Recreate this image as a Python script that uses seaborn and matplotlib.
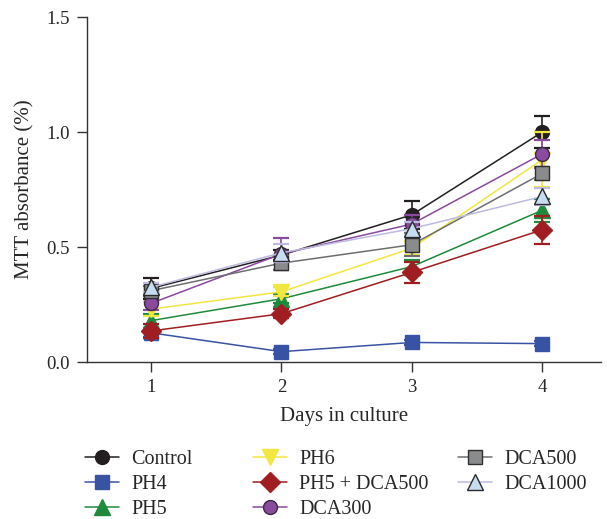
import numpy as np
import pandas as pd
import seaborn as sns
import matplotlib.pyplot as plt
from matplotlib.lines import Line2D

sns.set_style('ticks')
plt.rcParams['font.family'] = ['Liberation Serif', 'DejaVu Serif']

days = [1, 2, 3, 4]
groups = ['Control', 'PH4', 'PH5', 'PH6', 'PH5 + DCA500', 'DCA300', 'DCA500', 'DCA1000']

control = [0.32, 0.465, 0.64, 1.00]
ph4 = [0.127, 0.045, 0.085, 0.08]
ph5 = [0.18, 0.275, 0.415, 0.66]
ph6 = [0.23, 0.305, 0.495, 0.88]
ph5_dca500 = [0.135, 0.21, 0.39, 0.575]
dca300 = [0.255, 0.47, 0.60, 0.905]
dca500 = [0.31, 0.43, 0.51, 0.82]
dca1000 = [0.325, 0.475, 0.58, 0.72]

control_err = [0.045, 0.02, 0.06, 0.07]
ph4_err = [0.02, 0.01, 0.01, 0.01]
ph5_err = [0.03, 0.02, 0.03, 0.05]
ph6_err = [0.03, 0.02, 0.03, 0.12]
ph5_dca500_err = [0.03, 0.02, 0.045, 0.06]
dca300_err = [0.03, 0.07, 0.04, 0.06]
dca500_err = [0.02, 0.03, 0.05, 0.03]
dca1000_err = [0.02, 0.04, 0.03, 0.035]

values = [control, ph4, ph5, ph6, ph5_dca500, dca300, dca500, dca1000]
errors = [control_err, ph4_err, ph5_err, ph6_err, ph5_dca500_err, dca300_err, dca500_err, dca1000_err]

# line colour, marker face, marker edge, marker, size
styles = [
    ('#231f20', '#231f20', '#231f20', 'o', 10),
    ('#3953a4', '#3953a4', '#3953a4', 's', 10),
    ('#1f8a3c', '#1f8a3c', '#1f8a3c', '^', 11),
    ('#f2e641', '#f2e641', '#f2e641', 'v', 11),
    ('#a01d21', '#a01d21', '#a01d21', 'D', 10),
    ('#8a4a9e', '#8a4a9e', '#3a2a40', 'o', 10),
    ('#6d6e70', '#8a8b8d', '#2f2f2f', 's', 10),
    ('#bdbbe0', '#c7dcf0', '#2a2a2a', '^', 11),
]

df = pd.DataFrame({
    'day': np.tile(days, len(groups)),
    'group': np.repeat(groups, len(days)),
    'mtt': np.concatenate(values),
    'err': np.concatenate(errors),
})

fig = plt.figure(figsize=(6.07, 5.19), dpi=100)
ax = fig.add_axes([0.143, 0.3025, 0.847, 0.6645])

handles = []
for g, (lc, fc, ec, mk, ms) in zip(groups, styles):
    sub = df[df['group'] == g]
    ax.errorbar(sub['day'], sub['mtt'], yerr=sub['err'], fmt='none', ecolor=lc,
                elinewidth=1.2, capsize=6, capthick=1.6)
    sns.lineplot(data=sub, x='day', y='mtt', ax=ax, color=lc, linewidth=1.1,
                 marker=mk, markersize=ms, markerfacecolor=fc, markeredgecolor=ec,
                 markeredgewidth=1.0, legend=False)
    handles.append(Line2D([], [], color=lc, linewidth=1.1, marker=mk, markersize=ms,
                          markerfacecolor=fc, markeredgecolor=ec, label=g))

ax.set_xlim(0.508, 4.45)
ax.set_ylim(0, 1.5)
ax.set_xticks(days)
ax.set_yticks([0.0, 0.5, 1.0, 1.5])
ax.set_yticklabels(['0.0', '0.5', '1.0', '1.5'])
ax.tick_params(labelsize=13.5, direction='out', length=7.5, width=1, color='#333333', pad=5)
ax.set_xlabel('Days in culture', fontsize=15, labelpad=8)
ax.set_ylabel('MTT absorbance (%)', fontsize=15, labelpad=8)
for s in ['top', 'right']:
    ax.spines[s].set_visible(False)
for s in ['left', 'bottom']:
    ax.spines[s].set_color('#333333')
    ax.spines[s].set_linewidth(1)

# three legend columns placed by hand, like the original
col_x = [0.140, 0.417, 0.7545]
col_items = [handles[0:3], handles[3:6], handles[6:8]]
for x0, hs in zip(col_x, col_items):
    leg = fig.legend(handles=hs, loc='upper left', bbox_to_anchor=(x0, 0.133),
                     frameon=False, fontsize=14.5, handlelength=1.7,
                     labelspacing=0.3, handletextpad=0.6, borderpad=0, borderaxespad=0)

fig.savefig('out.png', dpi=100)
